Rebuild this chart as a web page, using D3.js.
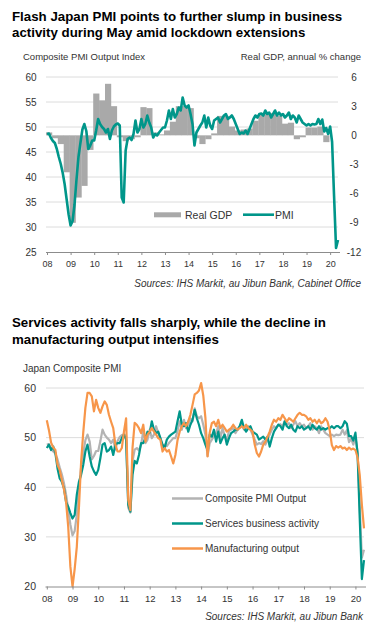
<!DOCTYPE html>
<html><head><meta charset="utf-8">
<script src="https://cdn.jsdelivr.net/npm/d3@7"></script>
<style>
html,body{margin:0;padding:0;background:#fff;}
svg{display:block;font-family:"Liberation Sans",Arial,sans-serif;}
</style></head>
<body>
<svg id="c" width="378" height="630"></svg>
<script>
// ---------- DATA (monthly Jan 2008 - May 2020) ----------
const startYear = 2008;
const yearLabels = ["08","09","10","11","12","13","14","15","16","17","18","19","20"];

const compositePMI = [
 48.6,48.7,47.8,47.2,46.8,45.6,44.0,42.6,40.8,38.5,35.5,32.5,
 30.3,31.2,34.5,39.5,44.0,46.8,49.5,50.6,49.2,45.6,46.3,47.3,
 47.3,49.3,51.6,50.6,50.0,49.6,48.9,49.6,47.6,49.3,50.1,50.5,
 50.7,50.3,35.9,34.9,45.3,47.6,47.9,47.4,48.6,51.3,48.9,49.6,
 51.6,49.9,50.6,52.3,50.9,49.9,47.9,48.6,48.3,48.9,49.4,49.9,
 49.9,51.3,53.3,51.6,53.6,51.9,52.6,53.9,53.3,55.9,54.3,53.9,
 54.3,52.6,50.6,46.3,48.9,49.6,50.3,50.9,52.3,49.9,51.9,50.3,
 49.6,51.3,51.6,51.9,50.9,51.6,52.3,52.6,51.6,51.9,52.3,51.6,
 50.6,49.6,48.6,48.9,48.7,49.3,48.6,49.6,50.6,51.6,52.3,51.9,
 52.6,52.7,52.3,53.3,52.6,52.9,51.9,52.6,53.3,52.3,52.9,52.3,
 52.6,51.9,52.3,52.9,51.6,52.3,51.9,50.9,52.3,51.6,50.9,50.6,
 50.3,50.6,50.3,50.6,50.5,50.6,51.6,50.6,51.5,49.1,49.8,48.6,
 50.1,47.0,36.2,25.8,27.4
];

const servicesActivity = [
 47.9,48.6,47.5,48.2,46.9,43.8,41.8,41.1,39.8,37.0,36.1,34.8,
 33.7,34.4,38.5,41.1,42.5,44.5,47.2,48.6,46.2,44.2,43.2,42.5,
 43.5,45.9,48.6,48.9,47.2,47.5,48.2,46.5,48.6,48.9,48.9,49.9,
 50.6,49.6,36.5,35.1,42.5,45.3,44.8,46.5,48.9,48.9,49.9,51.2,
 51.0,53.3,51.6,50.9,51.2,49.9,48.6,47.9,49.6,50.2,50.6,50.9,
 51.2,53.3,55.3,52.6,52.3,52.9,51.2,52.6,53.6,55.6,53.9,52.6,
 50.9,49.9,48.6,47.5,50.6,50.2,51.6,49.2,51.2,48.9,49.9,50.6,
 48.6,49.9,50.9,51.2,51.6,51.6,52.3,53.6,51.9,51.2,51.9,52.3,
 51.2,50.9,50.6,49.6,49.9,50.2,49.6,50.2,48.2,49.9,51.2,51.9,
 52.6,52.3,51.6,53.3,52.3,51.9,52.6,51.6,51.2,52.3,51.9,52.3,
 51.6,51.9,52.3,51.6,52.6,51.9,51.6,52.3,51.6,51.9,51.6,51.9,
 51.9,52.3,51.9,52.3,52.3,51.9,52.3,53.3,52.8,50.3,50.3,49.4,
 51.0,46.8,33.8,21.5,25.3
];

const manufacturingOutput = [
 53.5,51.5,49.0,48.0,47.5,44.5,43.5,41.5,39.6,37.0,32.0,24.0,
 20.0,23.5,28.0,36.0,45.0,51.0,56.0,59.0,59.0,58.3,55.3,57.6,
 56.0,55.0,56.3,57.3,56.6,54.6,53.2,51.9,48.6,47.2,47.2,47.9,
 51.2,53.9,37.5,35.4,48.0,53.0,52.6,51.9,50.9,52.6,49.2,50.6,
 51.2,51.9,51.2,50.6,49.9,49.6,47.2,47.9,47.2,47.5,46.2,44.8,
 46.5,49.5,51.2,52.3,52.9,52.3,53.3,54.6,56.6,58.7,59.0,59.5,
 61.0,58.5,54.0,46.2,51.0,52.9,53.2,52.3,53.6,51.9,52.6,51.9,
 51.2,51.6,51.9,52.6,51.9,51.6,51.9,52.3,51.9,52.6,51.9,51.6,
 51.2,48.6,46.9,46.2,47.2,48.6,49.2,50.2,51.2,52.6,53.6,53.2,
 53.9,53.6,54.6,53.9,53.2,53.9,53.6,53.2,53.9,54.6,55.0,54.6,
 54.6,54.3,53.6,53.9,53.2,53.6,52.9,53.6,52.9,53.2,53.9,53.2,
 51.5,48.5,47.5,48.3,48.0,48.3,47.8,48.0,47.5,48.0,47.6,47.8,
 47.5,46.0,42.5,36.5,31.7
];

// Real GDP, annual % change (quarterly, 2008Q1 - 2019Q4)
const realGDP = [
 0.3,-0.3,-0.9,-3.8,
 -9.0,-6.4,-5.2,-1.5,
 4.3,3.6,5.3,3.0,
 -0.2,-0.6,-0.4,-0.2,
 2.9,2.8,0.3,0.1,
 0.5,1.4,3.0,3.0,
 2.8,-0.3,-0.9,-0.4,
 0.2,2.0,2.0,0.9,
 0.5,0.6,0.7,1.5,
 2.1,2.2,2.3,2.0,
 1.2,1.3,-0.4,-0.2,
 0.8,0.8,0.9,-0.7
];

const leftTicksTop = [25,30,35,40,45,50,55,60];
const rightTicksTop = [-12,-9,-6,-3,0,3,6];
const ticksBottom = [20,30,40,50,60];

const titleTop = ["Flash Japan PMI points to further slump in business","activity during May amid lockdown extensions"];
const titleBottom = ["Services activity falls sharply, while the decline in","manufacturing output intensifies"];
const legendTop = ["Real GDP","PMI"];
const legendBottom = ["Composite PMI Output","Services business activity","Manufacturing output"];

// ---------- DRAW ----------
const svg = d3.select("#c");
const TEAL = "#00968a", GRAY_BAR = "#a9a9a9", GRAY_LINE = "#b3b3b3", ORANGE = "#f7964a";
const GRID = "#dcdcdc", AXIS = "#8c8c8c", TXT = "#333";

function titles(lines, y0) {
  svg.append("g").selectAll("text").data(lines).join("text")
    .attr("x", 12).attr("y", (d,i) => y0 + i*16.5)
    .attr("font-size", 13.3).attr("font-weight", "bold").attr("fill", "#000")
    .text(d => d);
}

// ===== TOP CHART =====
titles(titleTop, 20.5);
const xT = d3.scaleLinear().domain([0, 148]).range([47, 338]);
const yL = d3.scaleLinear().domain([25, 60]).range([252, 77]);
const yR = d3.scaleLinear().domain([-12, 6]).range([252, 77]);

svg.append("text").attr("x", 23).attr("y", 60).attr("font-size", 9.5).attr("fill", TXT).text("Composite PMI Output Index");
svg.append("text").attr("x", 361).attr("y", 60).attr("text-anchor", "end").attr("font-size", 9.5).attr("fill", TXT).text("Real GDP, annual % change");

const gT = svg.append("g");
gT.selectAll("line.grid").data(leftTicksTop.filter(d => d > 25)).join("line")
  .attr("x1", 46).attr("x2", 338).attr("y1", d => yL(d)).attr("y2", d => yL(d))
  .attr("stroke", GRID).attr("stroke-width", 1);

// GDP bars
gT.selectAll("rect.gdp").data(realGDP).join("rect")
  .attr("x", (d,i) => xT(i*3 - 0.5))
  .attr("width", (d,i) => xT(i*3 + 2.5) - xT(i*3 - 0.5) + 0.3)
  .attr("y", d => Math.min(yR(d), yR(0)))
  .attr("height", d => Math.abs(yR(d) - yR(0)))
  .attr("fill", GRAY_BAR);

// PMI line
gT.append("path").datum(compositePMI)
  .attr("d", d3.line().x((d,i) => xT(i)).y(d => yL(d)))
  .attr("fill", "none").attr("stroke", TEAL).attr("stroke-width", 2.6).attr("stroke-linejoin", "round");

// axis
const axT = d3.axisBottom(xT).tickValues(d3.range(0, 145, 12)).tickSize(3).tickFormat((d,i) => yearLabels[i]);
const axTg = gT.append("g").attr("transform", "translate(0,252)").call(axT);
axTg.select(".domain").attr("stroke", AXIS).attr("d", "M46,0.5H340");
axTg.selectAll(".tick line").attr("stroke", AXIS);
axTg.selectAll(".tick text").attr("font-size", 9).attr("fill", TXT).attr("font-family", "Liberation Sans, Arial, sans-serif").attr("dy", "0.95em");

// left labels
gT.selectAll("text.yl").data(leftTicksTop).join("text")
  .attr("x", 36.5).attr("y", d => yL(d) + 3.5).attr("text-anchor", "end")
  .attr("font-size", 10).attr("fill", TXT).text(d => d);
// right labels
gT.selectAll("text.yr").data(rightTicksTop).join("text")
  .attr("x", 354).attr("y", d => yR(d) + 3.5).attr("text-anchor", "middle")
  .attr("font-size", 10).attr("fill", TXT).text(d => d);

// legend top
gT.append("rect").attr("x", 154).attr("y", 212.3).attr("width", 27).attr("height", 5).attr("fill", GRAY_BAR);
gT.append("text").attr("x", 185).attr("y", 218.5).attr("font-size", 10.5).attr("fill", TXT).text(legendTop[0]);
gT.append("line").attr("x1", 243).attr("x2", 274).attr("y1", 214.7).attr("y2", 214.7).attr("stroke", TEAL).attr("stroke-width", 2.6);
gT.append("text").attr("x", 275).attr("y", 218.5).attr("font-size", 10.5).attr("fill", TXT).text(legendTop[1]);

svg.append("text").attr("x", 361).attr("y", 287).attr("text-anchor", "end").attr("font-size", 10)
  .attr("font-style", "italic").attr("fill", TXT).text("Sources: IHS Markit, au Jibun Bank, Cabinet Office");

// ===== BOTTOM CHART =====
titles(titleBottom, 327);
svg.append("text").attr("x", 23).attr("y", 372).attr("font-size", 10).attr("fill", TXT).text("Japan Composite PMI");

const xB = d3.scaleLinear().domain([0, 148]).range([46.8, 364]);
const yB = d3.scaleLinear().domain([20, 60]).range([586.5, 388]);
const gB = svg.append("g");
gB.selectAll("line.grid").data(ticksBottom.filter(d => d > 20)).join("line")
  .attr("x1", 46).attr("x2", 364).attr("y1", d => yB(d)).attr("y2", d => yB(d))
  .attr("stroke", GRID).attr("stroke-width", 1);

const lineB = d3.line().x((d,i) => xB(i)).y(d => yB(d));
const seriesB = [
  {name: legendBottom[0], values: compositePMI, color: GRAY_LINE},
  {name: legendBottom[1], values: servicesActivity, color: TEAL},
  {name: legendBottom[2], values: manufacturingOutput, color: ORANGE}
];
gB.selectAll("path.s").data(seriesB).join("path")
  .attr("d", d => lineB(d.values)).attr("fill", "none")
  .attr("stroke", d => d.color).attr("stroke-width", 2.2).attr("stroke-linejoin", "round");

const axB = d3.axisBottom(xB).tickValues(d3.range(0, 145, 12)).tickSize(3).tickFormat((d,i) => yearLabels[i]);
const axBg = gB.append("g").attr("transform", "translate(0,586.5)").call(axB);
axBg.select(".domain").attr("stroke", AXIS).attr("d", "M45.5,0.5H366");
axBg.selectAll(".tick line").attr("stroke", AXIS);
axBg.selectAll(".tick text").attr("font-size", 9.5).attr("fill", TXT).attr("font-family", "Liberation Sans, Arial, sans-serif").attr("dy", "1em");

gB.selectAll("text.yb").data(ticksBottom).join("text")
  .attr("x", 36).attr("y", d => yB(d) + 3.8).attr("text-anchor", "end")
  .attr("font-size", 10.5).attr("fill", TXT).text(d => d);

// legend bottom
const lg = gB.selectAll("g.lg").data(seriesB).join("g")
  .attr("transform", (d,i) => `translate(0,${498.5 + i*25})`);
lg.append("line").attr("x1", 172).attr("x2", 203).attr("stroke", d => d.color).attr("stroke-width", 2.5);
lg.append("text").attr("x", 205).attr("y", 3.8).attr("font-size", 10).attr("fill", TXT).text(d => d.name);

svg.append("text").attr("x", 363).attr("y", 620).attr("text-anchor", "end").attr("font-size", 10)
  .attr("font-style", "italic").attr("fill", TXT).text("Sources: IHS Markit, au Jibun Bank");
</script>
</body></html>
